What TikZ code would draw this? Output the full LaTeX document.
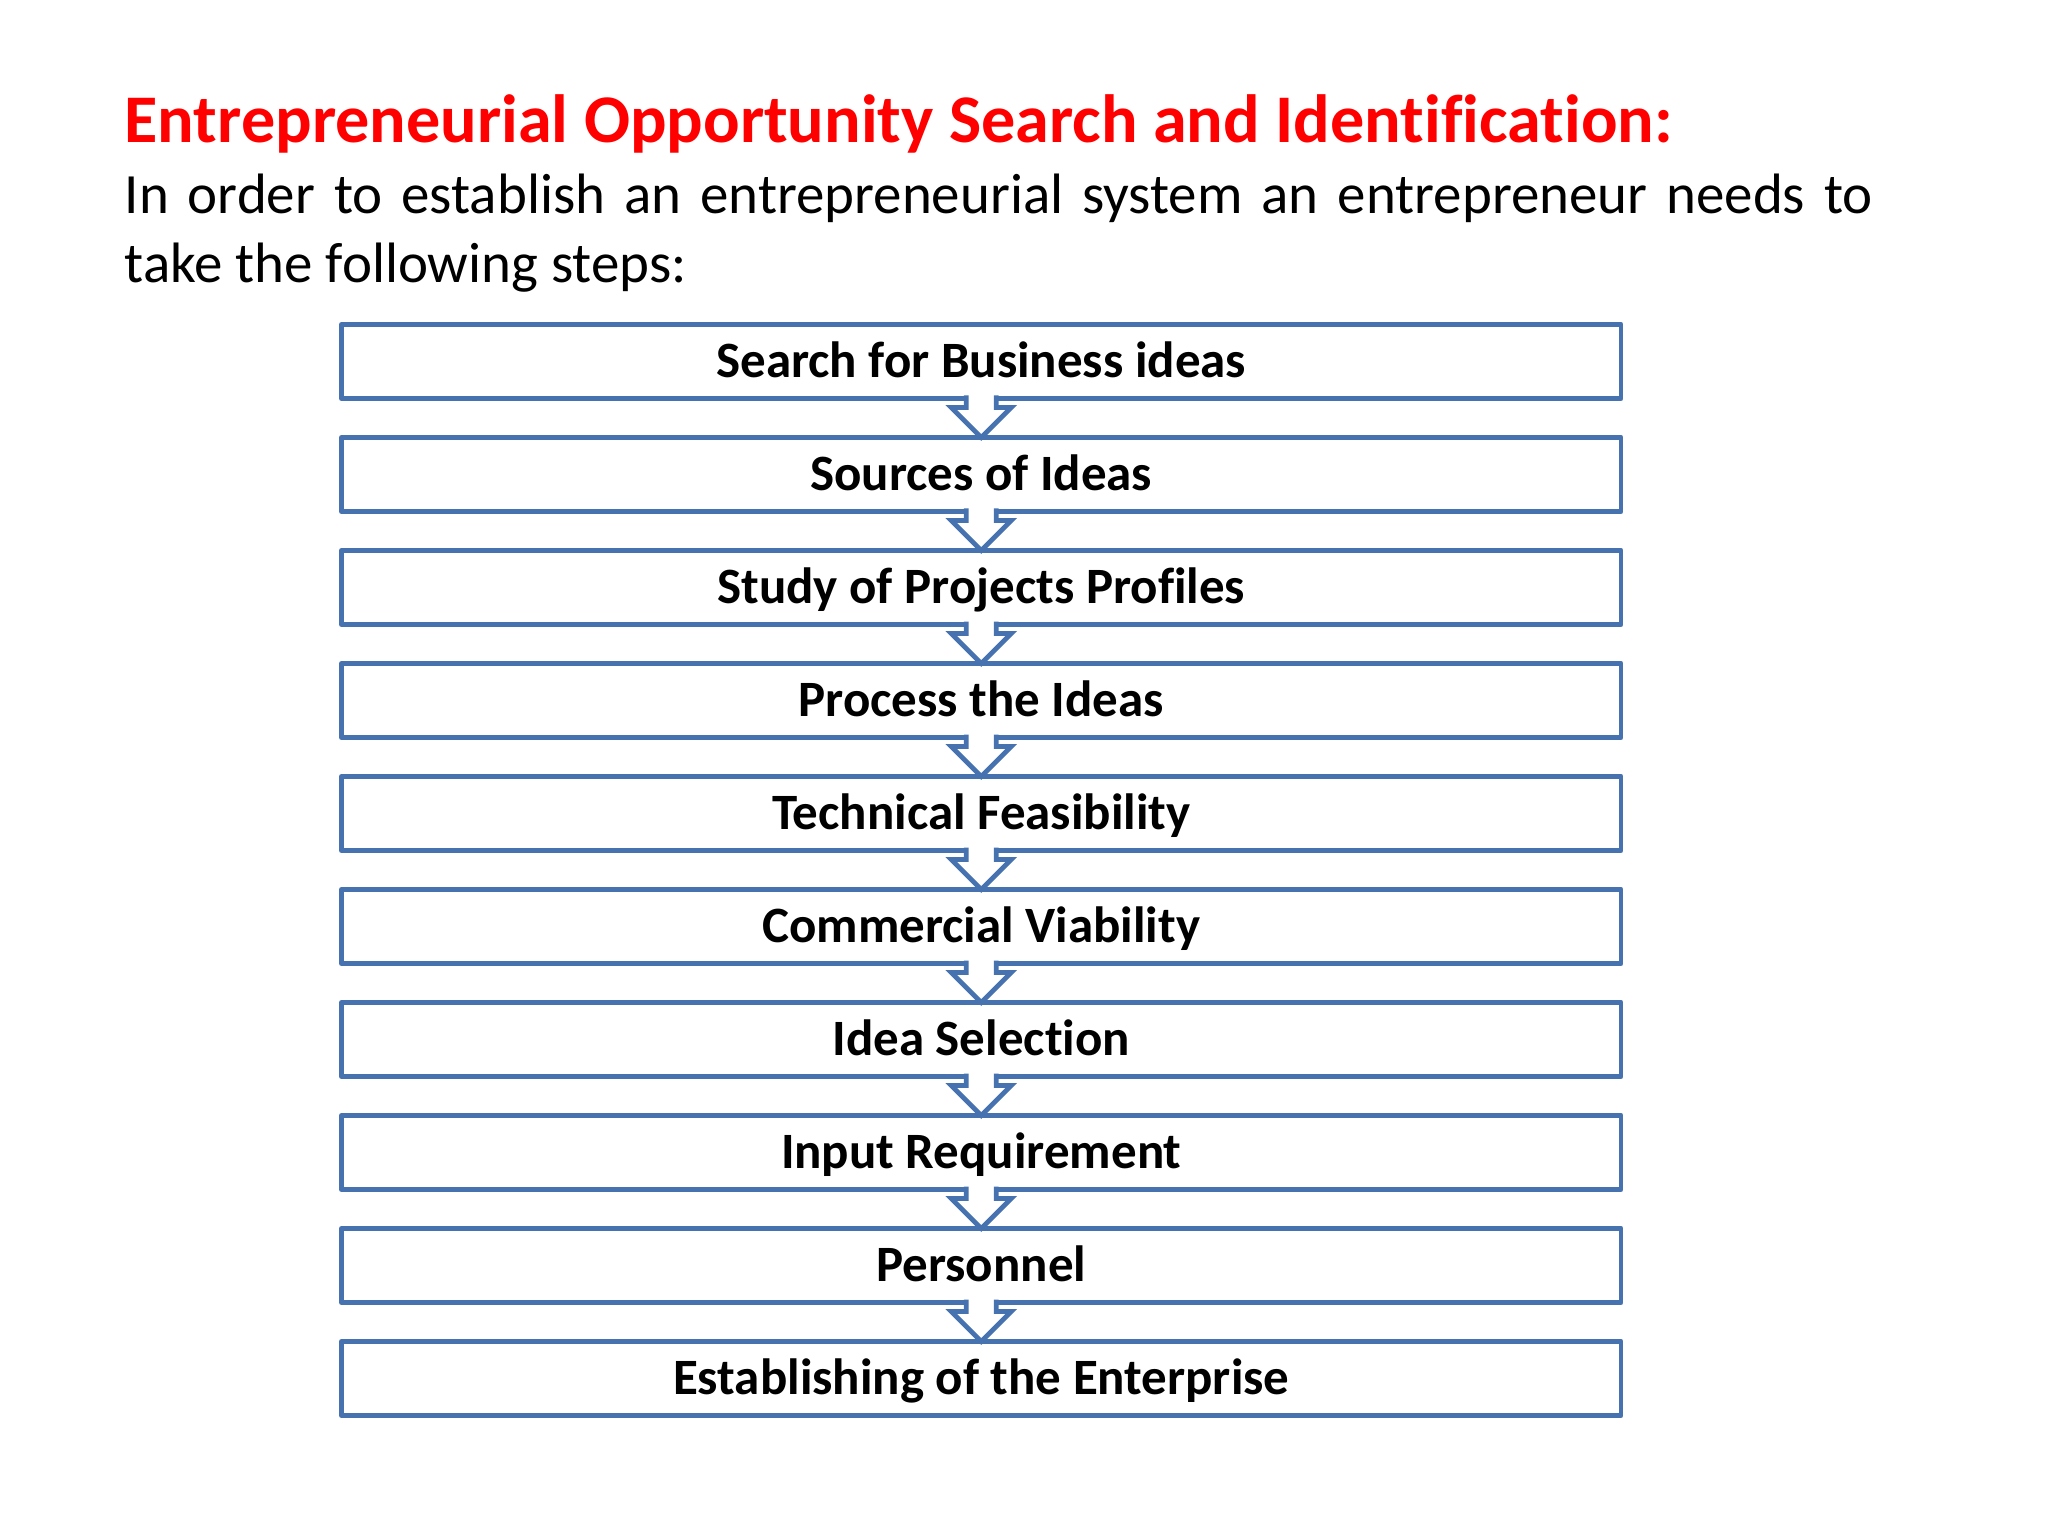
\documentclass[tikz,border=0pt]{standalone}
\usepackage{fontspec}
\setmainfont{Carlito}[Ligatures=CommonOff]
\usepackage{xcolor}
\usepackage{tikz}
\usetikzlibrary{positioning}

\definecolor{boxblue}{RGB}{70,114,176}
\definecolor{titlered}{RGB}{255,0,0}

\begin{document}
\begin{tikzpicture}[
    node distance=0.39cm,
    stepbox/.style={draw=boxblue, line width=1.4pt, line join=round, fill=white,
        minimum width=12.795cm, minimum height=0.74cm, outer sep=0pt,
        text height=0.31cm, text depth=0cm,
        font=\fontsize{14.5}{17}\selectfont\bfseries},
    steparrow/.style={draw=boxblue, line width=1.4pt, line join=miter, fill=white}
]
    % Page frame
    \path[fill=white, use as bounding box] (0,0) rectangle (20.48,-15.36);

    % Heading and intro text
    \node[anchor=base west, inner sep=0pt, text=titlered,
        font=\fontsize{19.4}{23}\selectfont\bfseries]
        (title) at (1.24,-1.43) {Entrepreneurial Opportunity Search and Identification:};
    \node[anchor=base west, inner sep=0pt, text width=17.48cm, align=justify,
        font=\fontsize{16.2}{19.6}\selectfont]
        (intro) at (1.24,-2.14) {In order to establish an entrepreneurial system an entrepreneur needs to\linebreak take the following steps:};

    % Steps
    \node[stepbox] (search) at (9.8125,-3.615) {Search for Business ideas};
    \node[stepbox, below=of search] (sources) {Sources of Ideas};
    \node[stepbox, below=of sources] (study) {Study of Projects Profiles};
    \node[stepbox, below=of study] (process) {Process the Ideas};
    \node[stepbox, below=of process] (technical) {Technical Feasibility};
    \node[stepbox, below=of technical] (commercial) {Commercial Viability};
    \node[stepbox, below=of commercial] (selection) {Idea Selection};
    \node[stepbox, below=of selection] (input) {Input Requirement};
    \node[stepbox, below=of input] (personnel) {Personnel};
    \node[stepbox, below=of personnel] (establish) {Establishing of the Enterprise};

    % Block arrows between steps
    \draw[steparrow] ([xshift=-1.5mm,yshift=0.3mm]search.south) -- ++(0,-1.2mm) -- ++(-1.5mm,0) -- (sources.north) -- ++(3mm,3mm) -- ++(-1.5mm,0) -- ++(0,1.2mm);
    \draw[steparrow] ([xshift=-1.5mm,yshift=0.3mm]sources.south) -- ++(0,-1.2mm) -- ++(-1.5mm,0) -- (study.north) -- ++(3mm,3mm) -- ++(-1.5mm,0) -- ++(0,1.2mm);
    \draw[steparrow] ([xshift=-1.5mm,yshift=0.3mm]study.south) -- ++(0,-1.2mm) -- ++(-1.5mm,0) -- (process.north) -- ++(3mm,3mm) -- ++(-1.5mm,0) -- ++(0,1.2mm);
    \draw[steparrow] ([xshift=-1.5mm,yshift=0.3mm]process.south) -- ++(0,-1.2mm) -- ++(-1.5mm,0) -- (technical.north) -- ++(3mm,3mm) -- ++(-1.5mm,0) -- ++(0,1.2mm);
    \draw[steparrow] ([xshift=-1.5mm,yshift=0.3mm]technical.south) -- ++(0,-1.2mm) -- ++(-1.5mm,0) -- (commercial.north) -- ++(3mm,3mm) -- ++(-1.5mm,0) -- ++(0,1.2mm);
    \draw[steparrow] ([xshift=-1.5mm,yshift=0.3mm]commercial.south) -- ++(0,-1.2mm) -- ++(-1.5mm,0) -- (selection.north) -- ++(3mm,3mm) -- ++(-1.5mm,0) -- ++(0,1.2mm);
    \draw[steparrow] ([xshift=-1.5mm,yshift=0.3mm]selection.south) -- ++(0,-1.2mm) -- ++(-1.5mm,0) -- (input.north) -- ++(3mm,3mm) -- ++(-1.5mm,0) -- ++(0,1.2mm);
    \draw[steparrow] ([xshift=-1.5mm,yshift=0.3mm]input.south) -- ++(0,-1.2mm) -- ++(-1.5mm,0) -- (personnel.north) -- ++(3mm,3mm) -- ++(-1.5mm,0) -- ++(0,1.2mm);
    \draw[steparrow] ([xshift=-1.5mm,yshift=0.3mm]personnel.south) -- ++(0,-1.2mm) -- ++(-1.5mm,0) -- (establish.north) -- ++(3mm,3mm) -- ++(-1.5mm,0) -- ++(0,1.2mm);
\end{tikzpicture}
\end{document}
